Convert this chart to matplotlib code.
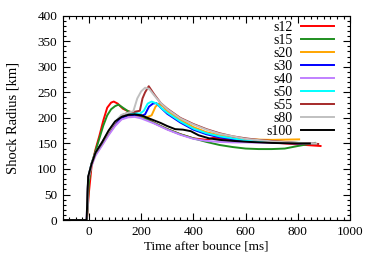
import matplotlib.pyplot as plt
from matplotlib.ticker import MultipleLocator

plt.rcParams['font.family'] = ['Liberation Serif', 'DejaVu Serif']

# shock radius curves: time [ms], radius [km]
t_s12 = [-100, -8, 0, 10, 25, 40, 55, 70, 85, 95, 110, 130, 150, 175, 200, 250, 300, 350, 400, 450, 475, 500, 550, 600, 700, 800, 887]
r_s12 = [0, 0, 55, 105, 138, 165, 195, 220, 230, 232, 228, 218, 213, 210, 205, 190, 178, 168, 160, 157, 161, 160, 157, 155, 152, 148, 145]

t_s15 = [-100, -8, 0, 10, 25, 40, 55, 70, 85, 100, 113, 130, 150, 175, 200, 250, 300, 350, 400, 450, 500, 550, 600, 650, 700, 750, 800, 865]
r_s15 = [0, 0, 75, 110, 135, 160, 185, 205, 217, 223, 226, 220, 213, 208, 202, 190, 178, 168, 160, 153, 147, 143, 140, 139, 139, 140, 145, 151]

t_s20 = [-100, -8, -3, 10, 25, 50, 75, 100, 125, 150, 175, 200, 225, 240, 255, 268, 285, 300, 350, 400, 450, 500, 550, 600, 700, 805]
r_s20 = [0, 0, 80, 108, 128, 147, 168, 186, 198, 203, 204, 203, 202, 205, 222, 228, 222, 213, 196, 182, 172, 166, 161, 158, 157, 158]

t_s30 = [-100, -8, -3, 10, 25, 50, 75, 100, 125, 150, 175, 200, 215, 230, 245, 258, 275, 300, 350, 400, 450, 500, 600, 700, 810]
r_s30 = [0, 0, 82, 110, 130, 150, 171, 189, 200, 205, 206, 204, 207, 222, 228, 229, 220, 208, 191, 177, 168, 162, 155, 152, 150]

t_s40 = [-100, -9, -3, 10, 25, 50, 75, 100, 125, 150, 175, 200, 250, 300, 350, 400, 450, 500, 550, 600, 700, 800, 860]
r_s40 = [0, 0, 80, 106, 126, 146, 166, 184, 197, 201, 202, 199, 189, 177, 167, 159, 155, 153, 152, 152, 151, 150, 150]

t_s50 = [-100, -8, -3, 10, 25, 50, 75, 100, 125, 150, 175, 195, 210, 225, 240, 260, 280, 300, 350, 400, 450, 500, 600, 700, 810]
r_s50 = [0, 0, 83, 111, 131, 151, 173, 192, 205, 209, 210, 208, 214, 228, 232, 228, 218, 210, 193, 179, 170, 164, 156, 153, 151]

t_s55 = [-100, -8, -3, 10, 25, 50, 75, 100, 125, 150, 175, 195, 205, 215, 229, 250, 275, 300, 350, 400, 450, 500, 550, 600, 650, 700, 800, 878]
r_s55 = [0, 0, 82, 110, 131, 151, 172, 191, 205, 210, 212, 214, 238, 250, 262, 246, 229, 218, 200, 188, 178, 170, 164, 160, 157, 155, 151, 149]

t_s80 = [-100, -8, -3, 10, 25, 50, 75, 100, 125, 150, 170, 185, 200, 215, 230, 250, 275, 300, 350, 400, 450, 500, 600, 700, 800, 870]
r_s80 = [0, 0, 83, 111, 132, 152, 173, 192, 206, 210, 213, 238, 252, 259, 257, 244, 229, 217, 199, 187, 177, 169, 159, 154, 151, 150]

t_s100 = [-100, -9, -3, 10, 25, 50, 75, 100, 125, 150, 175, 200, 225, 250, 275, 300, 330, 360, 390, 420, 460, 500, 550, 614, 700, 800, 846]
r_s100 = [0, 0, 85, 110, 132, 152, 175, 193, 202, 206, 207, 205, 200, 195, 190, 184, 178, 177, 174, 166, 160, 157, 155, 153, 151, 150, 150]

series = [
    ('s12', t_s12, r_s12, '#ff0000'),
    ('s15', t_s15, r_s15, '#1f8f1f'),
    ('s20', t_s20, r_s20, '#ffa500'),
    ('s30', t_s30, r_s30, '#0000ff'),
    ('s40', t_s40, r_s40, '#c080ff'),
    ('s50', t_s50, r_s50, '#00ffff'),
    ('s55', t_s55, r_s55, '#a52a2a'),
    ('s80', t_s80, r_s80, '#c0c0c0'),
    ('s100', t_s100, r_s100, '#000000'),
]

fig = plt.figure(figsize=(3.74, 2.62), dpi=100)
ax = fig.add_axes([0.168, 0.160, 0.768, 0.780])

for name, t, r, c in series:
    ax.plot(t, r, color=c, lw=1.4, label=name)

ax.set_xlim(-100, 1000)
ax.set_ylim(0, 400)
ax.xaxis.set_major_locator(MultipleLocator(200))
ax.xaxis.set_minor_locator(MultipleLocator(25))
ax.yaxis.set_major_locator(MultipleLocator(50))
ax.yaxis.set_minor_locator(MultipleLocator(10))
ax.tick_params(which='both', direction='in', top=True, right=True, labelsize=9.5, width=0.8)
ax.tick_params(which='major', length=5, pad=4)
ax.tick_params(which='minor', length=2.5)
for s in ax.spines.values():
    s.set_linewidth(0.8)

ax.set_xlabel('Time after bounce [ms]', fontsize=9.5, labelpad=2)
ax.set_ylabel('Shock Radius [km]', fontsize=10.5, labelpad=13)

ax.legend(loc='upper right', bbox_to_anchor=(0.955, 0.99), frameon=False,
          markerfirst=False, fontsize=10, handlelength=2.4, handletextpad=0.6,
          labelspacing=0.0, borderaxespad=0.0, borderpad=0.2)

fig.savefig('out.png', dpi=100)
